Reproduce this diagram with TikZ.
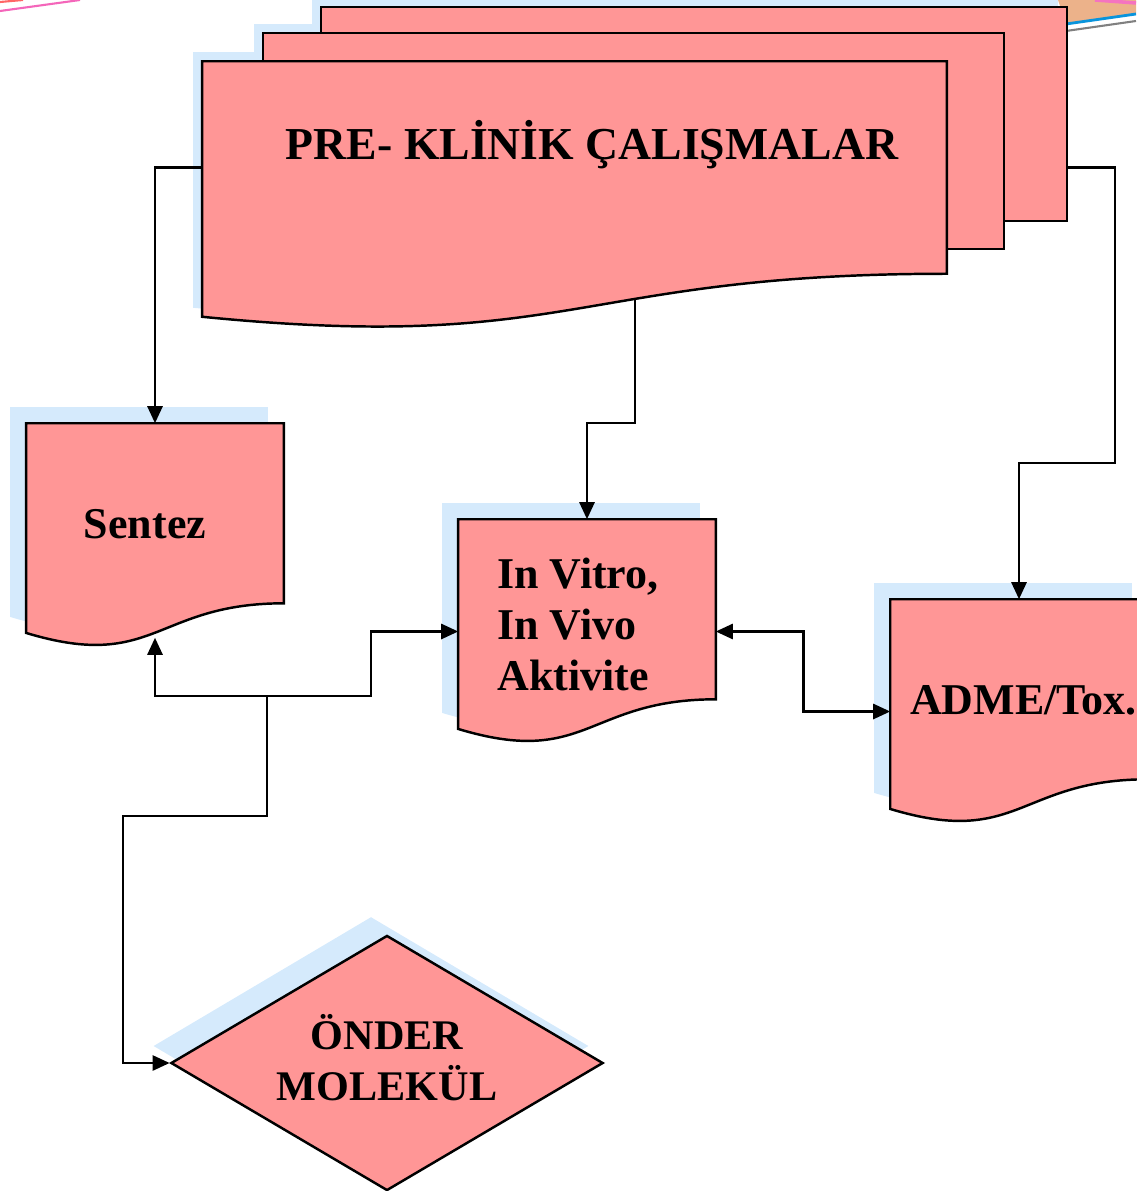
\documentclass[tikz,border=0pt]{standalone}
\usepackage{fontspec}
\setmainfont{Liberation Serif}
\usetikzlibrary{calc,
	positioning,
	shapes.geometric,
	arrows.meta}
\pgfdeclarelayer{background}
\pgfdeclarelayer{shapes}
\pgfsetlayers{background,shapes,main}
\definecolor{boxpink}{RGB}{255,150,150}
\definecolor{shadowblue}{RGB}{213,234,252}
\definecolor{cornerpeach}{RGB}{236,178,138}
\tikzset{
	docnode/.style={draw=none, inner sep=0pt, minimum width=2.56cm, minimum height=2.23cm},
	doclabel/.style={font=\fontsize{12.5}{14.5}\selectfont\bfseries, align=left},
	boxline/.style={draw=black, line width=0.7pt, fill=boxpink},
	conn/.style={line width=0.75pt, -{Triangle[length=0.17cm,width=0.15cm]}},
	bothconn/.style={line width=0.75pt, {Triangle[length=0.17cm,width=0.15cm]}-{Triangle[length=0.17cm,width=0.15cm]}}
}
\newcommand\docoutline[2]{($(#1.north west)+(#2)$) -- ($(#1.north east)+(#2)$) -- ($(#1.north east)!0.802!(#1.south east)+(#2)$) .. controls ($(#1.north)!0.802!(#1.south)+(#2)$) and ($(#1.north)!1.1075!(#1.south)+(#2)$) .. ($(#1.north west)!0.934!(#1.south west)+(#2)$) -- cycle}

\begin{document}
\begin{tikzpicture}[x=0.01cm, y=-0.01cm]
\useasboundingbox (0,0) rectangle (1136,1191);

\node (back) [draw=none, minimum width=7.44cm, minimum height=2.12cm] at (694,114) {};
\node (middle) [draw=none, minimum width=7.39cm, minimum height=2.14cm] at (633.5,141) {};
\node (pre) [draw=none, inner sep=0pt, minimum width=7.43cm, minimum height=2.11cm,
	label={[font=\fontsize{13}{16}\selectfont\bfseries, xshift=0.175cm, yshift=0.225cm]center:{PRE- KLİNİK ÇALIŞMALAR}}] at (574.5,167.5) {};
\node (sentez) [docnode, label={[doclabel, xshift=-0.1cm, yshift=0.115cm]center:{Sentez}}] at (155,535.5) {};
\node (invitro) [docnode, label={[doclabel, xshift=-0.09cm, yshift=0.075cm]center:{In Vitro,\\In Vivo\\Aktivite}}] at (587,631.5) {};
\node (adme) [docnode, label={[doclabel, xshift=0.045cm, yshift=0.11cm]center:{ADME/Tox.}}] at (1019,711.5) {};
\node (onder) [shape=diamond, shape aspect=1.7, boxline, inner sep=0pt, minimum width=4.32cm, minimum height=2.55cm,
	text depth=0.12cm, font=\fontsize{12}{14.5}\selectfont\bfseries, align=center] at (387,1063) {ÖNDER\\MOLEKÜL};

\coordinate (pretail) at (635,300);
\coordinate (turn) at (1115,463);
\coordinate (split) at (267,696);
\coordinate (bend) at (123,816);

\begin{pgfonlayer}{background}
	\fill[cornerpeach] (1058,0) -- (1136,0) -- (1136,14) -- (1066,24) -- cycle;
	\draw[cyan!80!blue, line width=0.8pt] (1066,24) -- (1136,14);
	\draw[gray, line width=0.6pt] (1066,31) -- (1136,21);
	\draw[magenta!55, line width=1pt] (1095,0) -- (1136,3);
	\draw[magenta!60, line width=0.6pt] (0,11) -- (80,0);
	\draw[red!60, line width=0.6pt] (0,2) -- (23,0);
	\fill[shadowblue] ($(back.north west)+(-9,-9)$) rectangle ($(back.south east)+(-9,-9)$);
	\fill[shadowblue] ($(middle.north west)+(-9,-9)$) rectangle ($(middle.south east)+(-9,-9)$);
	\fill[shadowblue] ($(pre.north west)+(-9,-9)$) -- ($(pre.north east)+(-9,-9)$) -- ($(pre.south east)+(-9,-9)$) .. controls ($(pre.south)+(-9,-9)$) and ($(pre.south)+(-9,71)$) .. ($(pre.south west)+(-9,34)$) -- cycle;
	\fill[shadowblue] \docoutline{sentez}{-16,-16};
	\fill[shadowblue] \docoutline{invitro}{-16,-16};
	\fill[shadowblue] \docoutline{adme}{-16,-16};
	\fill[shadowblue] ($(onder.north)+(-16,-17)$) -- ($(onder.east)+(-16,-17)$) -- ($(onder.south)+(-16,-17)$) -- ($(onder.west)+(-16,-17)$) -- cycle;
\end{pgfonlayer}

\begin{pgfonlayer}{shapes}
	\path[boxline] (back.north west) rectangle (back.south east);
	\path[boxline] (middle.north west) rectangle (middle.south east);
	\path[boxline] (pre.north west) -- (pre.north east) -- (pre.south east) .. controls (pre.south) and ($(pre.south)+(0,80)$) .. ($(pre.south west)+(0,43)$) -- cycle;
	\path[boxline] \docoutline{sentez}{0,0};
	\path[boxline] \docoutline{invitro}{0,0};
	\path[boxline] \docoutline{adme}{0,0};
\end{pgfonlayer}

\draw[conn] (pre.west) -| (sentez.north);
\draw[conn] (pretail) -- (pretail |- 0,423) -| (invitro.north);
\draw[conn] (back.east |- pre.west) -| (turn) -| (adme.north);
\draw[bothconn] (invitro.east) -- ++(88,0) |- (adme.west);
\draw[conn] (split) -| ($(sentez.south)+(0,-10)$);
\draw[conn] (split) -- ++(104,0) |- (invitro.west);
\draw[conn] (split) |- (bend) |- (onder.west);
\end{tikzpicture}
\end{document}
